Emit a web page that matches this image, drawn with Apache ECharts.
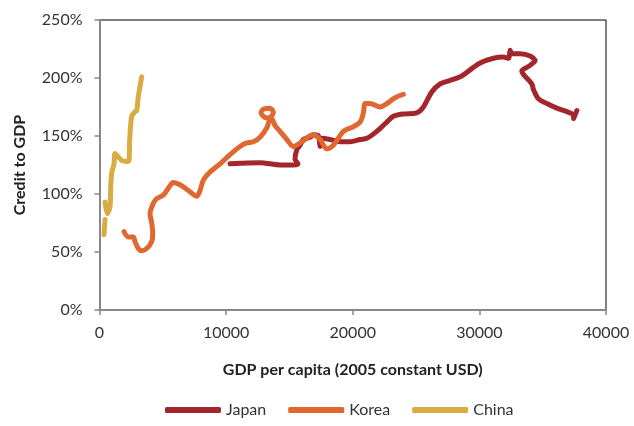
<!DOCTYPE html>
<html><head><meta charset="utf-8">
<script src="https://cdn.jsdelivr.net/npm/echarts@6/dist/echarts.min.js"></script>
<style>html,body{margin:0;padding:0;background:#fff}#c{width:634px;height:426px}</style>
</head><body><div id="c"></div>
<script>
const xTicks = [0, 10000, 20000, 30000, 40000];
const yTicks = [0, 50, 100, 150, 200, 250];

const japanGdp = [10310,11100,12680,14260,15310,15680,15440,15580,15840,16100,16630,16890,17290,17420,17550,18210,19000,19790,20580,21110,21900,22690,23210,24000,25050,25580,26240,26900,27690,28480,29270,30060,31110,31900,32300,32430,32560,33220,34010,34400,33880,33350,33480,34140,34270,34670,35330,36120,36910,37440,37440,37700];
const japanCredit = [126,126.5,127,125,125,126,130,138,142,147,149,151,150,141,148,147,145,145,147,148,154,162,167,169,170,175,188,195,198,201,207,213,217,218,217,224,221,221,219,215,210,206,203,195,190,182,178,174,171,168,165,172];

const koreaGdp = [1935,2275,2670,2800,3065,3334,3729,4124,4203,4124,3990,4250,4519,5040,5435,5830,6360,7015,7680,7940,8200,8730,9520,10310,11100,11630,12150,12680,13210,13470,13730,13470,12940,12760,13070,13600,13870,14260,14790,15310,15840,16890,17420,17950,18470,19260,20050,20580,20840,20980,21370,22160,22690,23340,24000];
const koreaCredit = [67.5,63,63,59,53,51,53,59,66,75,83,92,96,99,105,110,108,103,98,103,112,119,126,134,141,144,145,149,157,165,170,174,173,170,166,165,159,154,147,141,144,151,147,139,142,154,158,162,170,178,178,175,178,183,186];

const chinaGdp = [355,400,435,null,435,616,830,885,964,1145,1225,1485,1750,2150,2330,2385,2545,2805,2940,3065,3334];
const chinaCredit = [65,72,78,null,93,83,89,106,118,126,135,132,129,128,129,147,167,171,172,184,201];

function zip(xs, ys){ return xs.map((x,i)=> x==null ? ['-','-'] : [x, ys[i]]); }

const chart = echarts.init(document.getElementById('c'));
const font = 'Lato, "Open Sans", sans-serif';
const baseLine = {width:5, cap:'round', join:'round'};
chart.setOption({
  animation:false,
  textStyle:{fontFamily:font},
  grid:{left:99.5, right:28, top:20, bottom:116, show:true, borderColor:'#000', borderWidth:1},
  legend:{
    bottom:3, left:160, icon:'roundRect', itemWidth:56, itemHeight:6, itemGap:22,
    textStyle:{fontFamily:font, fontSize:16, color:'#333'},
    data:['Japan','Korea','China']
  },
  xAxis:{
    type:'value', min:xTicks[0], max:xTicks[xTicks.length-1], interval:10000,
    name:'GDP per capita (2005 constant USD)', nameLocation:'middle', nameGap:52,
    nameTextStyle:{fontFamily:font, fontSize:16, fontWeight:'bold', color:'#222'},
    axisLine:{show:true, lineStyle:{color:'#888', width:2}},
    axisTick:{show:true, length:5, lineStyle:{color:'#888', width:1.5}},
    axisLabel:{fontSize:16, color:'#333', margin:15, formatter:(v)=>String(v)},
    splitLine:{show:false}
  },
  yAxis:{
    type:'value', min:yTicks[0], max:yTicks[yTicks.length-1], interval:50,
    name:'Credit to GDP', nameLocation:'middle', nameGap:72, nameRotate:90,
    nameTextStyle:{fontFamily:font, fontSize:16, fontWeight:'bold', color:'#222'},
    axisLine:{show:true, lineStyle:{color:'#888', width:2}},
    axisTick:{show:true, length:5, lineStyle:{color:'#888', width:1.5}},
    axisLabel:{fontSize:16, color:'#333', margin:17, formatter:'{value}%'},
    splitLine:{show:false}
  },
  series:[
    {name:'Japan', type:'line', data:zip(japanGdp, japanCredit), showSymbol:false, symbol:'none', smooth:0.3,
     color:'#A3262C', lineStyle:Object.assign({color:'#A3262C'}, baseLine)},
    {name:'Korea', type:'line', data:zip(koreaGdp, koreaCredit), showSymbol:false, symbol:'none', smooth:0.3,
     color:'#E0672F', lineStyle:Object.assign({color:'#E0672F'}, baseLine)},
    {name:'China', type:'line', data:zip(chinaGdp, chinaCredit), showSymbol:false, symbol:'none', smooth:0.3, connectNulls:false,
     color:'#D9AC43', lineStyle:Object.assign({color:'#D9AC43'}, baseLine)}
  ]
});
</script></body></html>
